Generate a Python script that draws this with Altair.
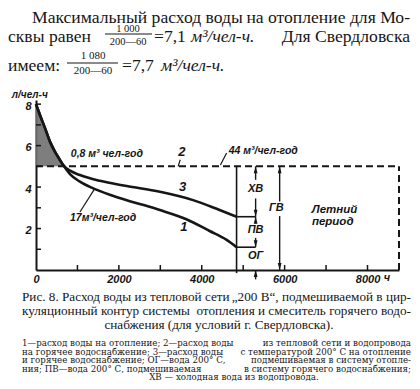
import altair as alt
import pandas as pd

# ---------------- data ----------------
curve1_hours = [0, 100, 220, 340, 460, 580, 660, 820, 1060, 1380, 1800, 2190, 2600, 2990, 3630, 4190, 4600, 4840]
curve1_vals = [8.0, 7.45, 6.83, 6.18, 5.70, 5.30, 5.05, 4.63, 4.26, 3.94, 3.62, 3.37, 3.13, 2.89, 2.45, 1.88, 1.45, 1.10]
curve3_hours = [0, 100, 220, 340, 460, 580, 660, 820, 1060, 1540, 2190, 2990, 3790, 4430, 4840]
curve3_vals = [8.0, 7.45, 6.83, 6.18, 5.70, 5.30, 5.05, 4.79, 4.58, 4.30, 4.05, 3.77, 3.37, 2.89, 2.57]
hatch_hours = [0, 100, 220, 340, 460, 580, 660]
hatch_vals = [8.0, 7.45, 6.83, 6.18, 5.70, 5.30, 5.05]
line2_hours = [0, 8760]
line2_level = 5.0
year_end = 8760
heating_end = 4840
pv_level = 2.57
og_level = 1.10
dim_hour = 5300
gv_hour = 5880
x_label_vals = [0, 2000, 4000, 6000, 8000]
y_label_vals = [2, 4, 6, 8]
x_tick_vals = [1000, 2000, 3000, 4000, 5000, 6000, 7000, 8000]
y_tick_vals = [1, 2, 3, 4, 5, 6, 7, 8]
seg_hours = [dim_hour, dim_hour, dim_hour, dim_hour, gv_hour, gv_hour, dim_hour]
seg_from = [5.0, 3.45, 2.57, 1.55, 5.0, 2.60, 0.0]
seg_to = [4.35, 2.57, 2.25, 1.10, 3.30, 0.0, -0.45]
up_tip_hours = [dim_hour, dim_hour, dim_hour, gv_hour]
up_tip_vals = [5.0, 2.57, 0.0, 5.0]
down_tip_hours = [dim_hour, dim_hour, gv_hour]
down_tip_vals = [2.57, 1.10, 0.0]

# ---------------- layout ----------------
W, H = 363, 170
OX, OY = 36, 100          # page position of plot origin (top-left)
INK = "#161616"
SERIF = "Liberation Serif"
SANS = "Liberation Sans"

xs = alt.Scale(domain=[0, 8760], nice=False, zero=False)
ys = alt.Scale(domain=[0, 8.2], nice=False, zero=False)

xaxis = alt.Axis(values=x_label_vals, format="d", ticks=False, grid=False, domainWidth=2, domainColor=INK,
                 labelFont=SANS, labelFontStyle="italic", labelFontWeight="bold", labelFontSize=11,
                 labelColor=INK, labelPadding=3, labelFlush=False, labelOverlap=False, title=None)
yaxis = alt.Axis(values=y_label_vals, format="d", ticks=False, grid=False, domainWidth=2, domainColor=INK,
                 labelFont=SANS, labelFontStyle="italic", labelFontWeight="bold", labelFontSize=11,
                 labelColor=INK, labelPadding=5, labelOffset=2, labelFlush=False, labelOverlap=False, title=None)


def X(f):
    return alt.X(f, type="quantitative", scale=xs, axis=xaxis)


def Y(f):
    return alt.Y(f, type="quantitative", scale=ys, axis=yaxis)


layers = []

# hatched region (between curve and line 2)
hatch_df = pd.DataFrame({"h": hatch_hours, "v": hatch_vals, "b": [line2_level] * len(hatch_hours)})
layers.append(alt.Chart(hatch_df).mark_area(color="#707070", opacity=0.9, interpolate="monotone").encode(
    x=X("h"), y=Y("v"), y2="b"))

# curve 1 and 3
c1 = pd.DataFrame({"h": curve1_hours, "v": curve1_vals})
c3 = pd.DataFrame({"h": curve3_hours, "v": curve3_vals})
for df in (c1, c3):
    layers.append(alt.Chart(df).mark_line(color=INK, strokeWidth=2.6, interpolate="monotone").encode(
        x=X("h"), y=Y("v")))

# line 2 dashed
l2 = pd.DataFrame({"h": line2_hours, "v": [line2_level] * 2})
layers.append(alt.Chart(l2).mark_line(color=INK, strokeWidth=2, strokeDash=[7, 4]).encode(x=X("h"), y=Y("v")))
layers.append(alt.Chart(pd.DataFrame({"h": [year_end], "a": [0.0], "b": [line2_level]})).mark_rule(
    color=INK, strokeWidth=2, strokeDash=[7, 4]).encode(x=X("h"), y=Y("a"), y2="b"))

# end of heating season
layers.append(alt.Chart(pd.DataFrame({"h": [heating_end], "a": [-0.15], "b": [line2_level]})).mark_rule(
    color=INK, strokeWidth=1.6).encode(x=X("h"), y=Y("a"), y2="b"))
# stubs
layers.append(alt.Chart(pd.DataFrame({"h": [heating_end] * 2, "h2": [dim_hour] * 2, "v": [pv_level, og_level]})).mark_rule(
    color=INK, strokeWidth=1.6).encode(x=X("h"), x2="h2", y=Y("v")))
# dimension lines and arrowheads
layers.append(alt.Chart(pd.DataFrame({"h": seg_hours, "a": seg_from, "b": seg_to})).mark_rule(
    color=INK, strokeWidth=1.4).encode(x=X("h"), y=Y("a"), y2="b"))
layers.append(alt.Chart(pd.DataFrame({"h": up_tip_hours, "v": up_tip_vals})).mark_point(
    shape="M0,0L0.6,2.2L-0.6,2.2Z", size=40, filled=True, color=INK, opacity=1).encode(x=X("h"), y=Y("v")))
layers.append(alt.Chart(pd.DataFrame({"h": down_tip_hours, "v": down_tip_vals})).mark_point(
    shape="M0,0L0.6,-2.2L-0.6,-2.2Z", size=40, filled=True, color=INK, opacity=1).encode(x=X("h"), y=Y("v")))

# inside ticks
layers.append(alt.Chart(pd.DataFrame({"v": y_tick_vals})).mark_rule(color=INK, strokeWidth=1.5).encode(
    y=Y("v"), x=alt.value(0), x2=alt.value(5)))
layers.append(alt.Chart(pd.DataFrame({"h": x_tick_vals})).mark_rule(color=INK, strokeWidth=1.5).encode(
    x=X("h"), y=alt.value(H), y2=alt.value(H - 5)))

# leader lines
lead = pd.DataFrame({"h": [1422, 4450, 3430], "v": [3.94, 5.06, 5.0], "h2": [1060, 4600, 3480], "v2": [2.80, 5.64, 5.32]})
layers.append(alt.Chart(lead).mark_rule(color=INK, strokeWidth=1.2).encode(x=X("h"), y=Y("v"), x2="h2", y2="v2"))


def dtext(text, h, v, size=11, align="center", weight="bold"):
    df = pd.DataFrame({"t": [text], "h": [h], "v": [v]})
    return alt.Chart(df).mark_text(align=align, baseline="middle", font=SANS, fontStyle="italic",
                                   fontWeight=weight, fontSize=size, color=INK).encode(
        x=X("h"), y=Y("v"), text="t:N")


layers += [
    dtext("л/чел-ч", -150, 8.45, 10),
    dtext("0,8 м³ чел-год", 840, 5.6, 10.5, "left"),
    dtext("2", 3518, 5.69, 13),
    dtext("44 м³/чел-год", 4650, 5.73, 10.5, "left"),
    dtext("3", 3535, 4.02, 13),
    dtext("1", 3566, 2.09, 13),
    dtext("17м³/чел-год", 820, 2.49, 10.5, "left"),
    dtext("ХВ", dim_hour, 3.9, 11),
    dtext("ПВ", dim_hour, 1.93, 11),
    dtext("ОГ", dim_hour, 0.67, 11),
    dtext("ГВ", 5800, 2.97, 11),
    dtext("Летний", 7205, 2.9, 11.5),
    dtext("период", 7160, 2.3, 11.5),
    dtext("ч", 8470, -0.39, 11),
]


def ptext(text, px, py, size, align="left", style="normal", font=SERIF):
    df = pd.DataFrame({"t": [text]})
    return alt.Chart(df).mark_text(align=align, baseline="middle", font=font, fontStyle=style,
                                   fontSize=size, color=INK).encode(
        text="t:N", x=alt.value(px - OX), y=alt.value(py - OY))


def pbar(x1, x2, py):
    return alt.Chart(pd.DataFrame({"a": [0]})).mark_rule(color=INK, strokeWidth=1).encode(
        x=alt.value(x1 - OX), x2=alt.value(x2 - OX), y=alt.value(py - OY))


TS = 17.6
layers += [
    ptext("Максимальный расход воды", 32, 17.5, TS),
    ptext("на отопление для Мо-", 410, 17.5, TS, "right"),
    ptext("сквы равен", 8, 36.5, TS),
    ptext("1 000", 128, 28.5, 10.5, "center"), pbar(105, 152, 34), ptext("200—60", 128, 41.5, 10.5, "center"),
    ptext("=7,1", 154, 36.5, TS), ptext("м³/чел-ч.", 191, 36.5, TS, style="italic"),
    ptext("Для Свердловска", 410, 36.5, TS, "right"),
    ptext("имеем:", 8, 66, TS),
    ptext("1 080", 93, 55.5, 11, "center"), pbar(67, 118, 63), ptext("200—60", 93, 71, 11, "center"),
    ptext("=7,7", 122, 66, TS), ptext("м³/чел-ч.", 161, 66, TS, style="italic"),
]

CS = 13.2
layers += [
    ptext("Рис. 8. Расход воды из тепловой сети", 22, 297, CS),
    ptext("„200 В“, подмешиваемой в цир-", 411, 297, CS, "right"),
    ptext("куляционный контур системы", 22, 311, CS),
    ptext("отопления и смеситель горячего водо-", 411, 311, CS, "right"),
    ptext("снабжения (для условий г. Свердловска).", 219, 324.5, CS, "center"),
]
SS = 8.7
SF = "DejaVu Serif"
small = [
    ("1—расход воды на отопление; 2—расход воды", "из тепловой сети и водопровода", 342.7),
    ("на горячее водоснабжение; 3—расход воды", "с температурой 200° С на отопление", 351.5),
    ("и горячее водоснабжение; ОГ—вода 200° С,", "подмешиваемая в систему отопле-", 360),
    ("ния; ПВ—вода 200° С, подмешиваемая", "в систему горячего водоснабжения;", 368.5),
]
for left, right, yy in small:
    layers.append(ptext(left, 22, yy, SS, font=SF))
    layers.append(ptext(right, 411, yy, SS, "right", font=SF))
layers.append(ptext("ХВ — холодная вода из водопровода.", 234, 377.3, SS, "center", font=SF))

chart = alt.layer(*layers).properties(
    width=W, height=H,
    padding={"left": OX - 8, "top": OY - 8, "right": 412 - OX - W, "bottom": 381 - OY - H},
    autosize=alt.AutoSizeParams(type="none"),
).configure_view(strokeWidth=0)

chart.save("out.html", embed_options={"renderer": "svg", "actions": False})
